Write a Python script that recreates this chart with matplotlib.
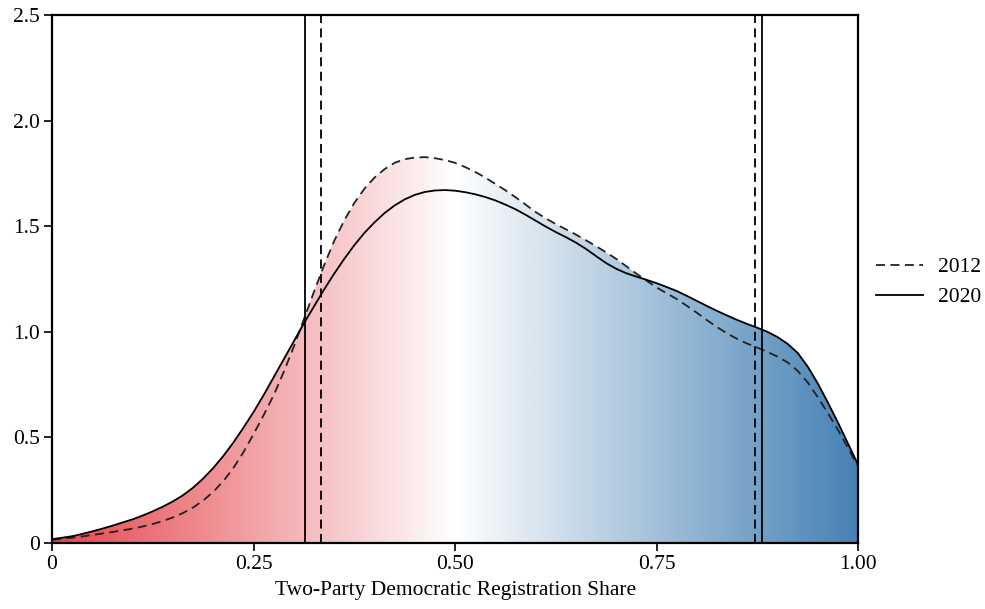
import numpy as np
import matplotlib.pyplot as plt
from matplotlib.colors import LinearSegmentedColormap
from matplotlib.patches import Polygon

plt.rcParams['font.family'] = ['Liberation Serif', 'DejaVu Serif']

# Density estimates, on a common grid (step 0.0125)
share = np.linspace(0, 1, 81)
dens_2020 = [0.018, 0.025, 0.032, 0.043, 0.055, 0.068, 0.082, 0.097, 0.112, 0.130,
             0.150, 0.172, 0.197, 0.226, 0.262, 0.305, 0.355, 0.412, 0.476, 0.546,
             0.620, 0.700, 0.785, 0.870, 0.955, 1.040, 1.120, 1.200, 1.275, 1.345,
             1.410, 1.468, 1.518, 1.562, 1.598, 1.627, 1.648, 1.662, 1.669, 1.671,
             1.668, 1.661, 1.651, 1.638, 1.622, 1.602, 1.580, 1.554, 1.526, 1.498,
             1.472, 1.448, 1.422, 1.392, 1.358, 1.325, 1.298, 1.277, 1.261, 1.246,
             1.230, 1.212, 1.193, 1.170, 1.146, 1.122, 1.099, 1.077, 1.056, 1.037,
             1.019, 1.000, 0.975, 0.943, 0.900, 0.835, 0.755, 0.665, 0.570, 0.470,
             0.370]
dens_2012 = [0.015, 0.020, 0.025, 0.031, 0.038, 0.045, 0.052, 0.060, 0.068, 0.078,
             0.090, 0.104, 0.121, 0.142, 0.168, 0.201, 0.242, 0.293, 0.355, 0.430,
             0.515, 0.605, 0.700, 0.810, 0.930, 1.060, 1.190, 1.315, 1.430, 1.527,
             1.610, 1.677, 1.730, 1.770, 1.800, 1.817, 1.825, 1.827, 1.822, 1.813,
             1.800, 1.780, 1.757, 1.730, 1.700, 1.670, 1.637, 1.602, 1.567, 1.537,
             1.510, 1.485, 1.460, 1.433, 1.405, 1.376, 1.345, 1.310, 1.275, 1.242,
             1.210, 1.182, 1.155, 1.123, 1.090, 1.055, 1.022, 0.992, 0.966, 0.944,
             0.925, 0.905, 0.882, 0.855, 0.815, 0.760, 0.690, 0.615, 0.535, 0.450,
             0.360]
vlines_2012 = [0.334, 0.872]
vlines_2020 = [0.314, 0.881]

xticks = [0, 0.25, 0.5, 0.75, 1.0]
xticklabels = ['0', '0.25', '0.50', '0.75', '1.00']
yticks = [0, 0.5, 1.0, 1.5, 2.0, 2.5]
yticklabels = ['0', '0.5', '1.0', '1.5', '2.0', '2.5']

fig = plt.figure(figsize=(9.85, 6.09), dpi=100)
ax = fig.add_axes([0.0528, 0.1084, 0.8184, 0.867])

# red -> white -> blue gradient, clipped to the area under the curves
cmap = LinearSegmentedColormap.from_list('rwb', ['#e5474d', '#ffffff', '#4682b4'])
grad = np.linspace(0, 1, 500).reshape(1, -1)
img = ax.imshow(grad, cmap=cmap, extent=[0, 1, 0, 2.5], aspect='auto', origin='lower', zorder=1)
top = np.maximum(dens_2020, dens_2012)
verts = np.vstack([np.column_stack([share, top]), [[1, 0], [0, 0]]])
poly = Polygon(verts, closed=True, facecolor='none', edgecolor='none')
ax.add_patch(poly)
img.set_clip_path(poly)

ax.plot(share, dens_2012, color='#222222', lw=1.3, ls=(0, (5, 3)), label='2012', zorder=3)
ax.plot(share, dens_2020, color='black', lw=1.3, label='2020', zorder=3)
for v in vlines_2012:
    ax.axvline(v, color='black', lw=1.3, ls=(0, (5, 3)), zorder=3)
for v in vlines_2020:
    ax.axvline(v, color='black', lw=1.3, zorder=3)

ax.set_xlim(0, 1)
ax.set_ylim(0, 2.5)
ax.set_xticks(xticks)
ax.set_xticklabels(xticklabels)
ax.set_yticks(yticks)
ax.set_yticklabels(yticklabels)
ax.tick_params(labelsize=15.5, length=6, width=1.2, color='black', pad=3)
for s in ax.spines.values():
    s.set_linewidth(1.6)
ax.set_xlabel('Two-Party Democratic Registration Share', fontsize=15.5, labelpad=5)

ax.legend(loc='center left', bbox_to_anchor=(0.998, 0.494), frameon=False, fontsize=15.5,
          handlelength=2.2, handletextpad=0.7, labelspacing=0.45)

fig.savefig('out.png', dpi=100)
